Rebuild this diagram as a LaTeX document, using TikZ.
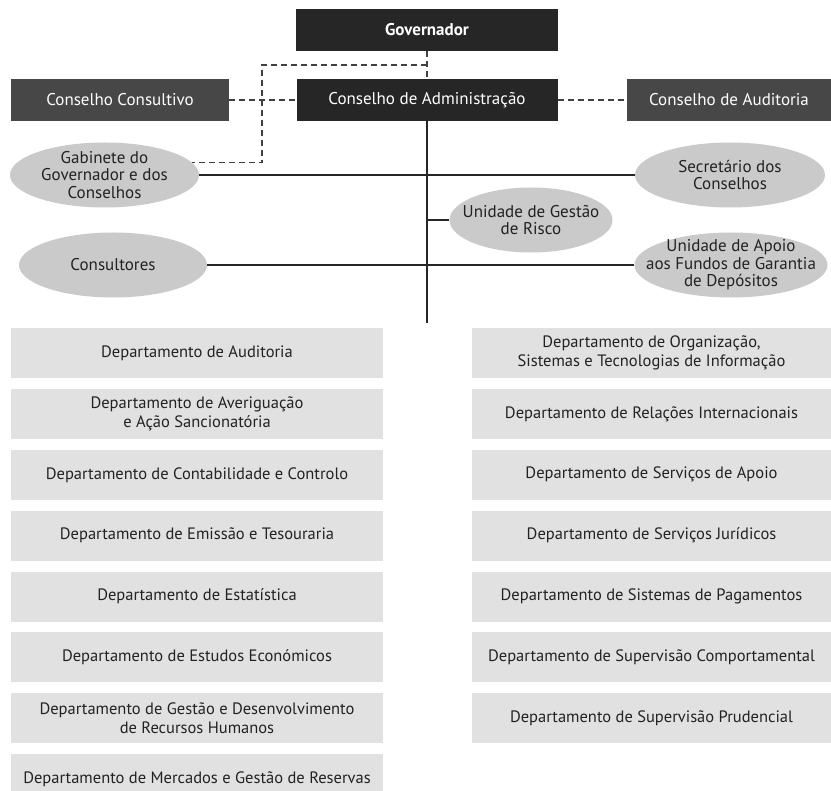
\documentclass[tikz,border=0pt]{standalone}
\usepackage{fontspec}
\setmainfont{PT Sans}
\usepackage{xcolor}
\usepackage{tikz}
\usetikzlibrary{positioning, shapes.geometric}

\definecolor{boardgray}{HTML}{262626}
\definecolor{councilgray}{HTML}{474747}
\definecolor{unitgray}{HTML}{CACACA}
\definecolor{deptgray}{HTML}{E1E1E1}
\definecolor{inkgray}{HTML}{222222}

\begin{document}
\begin{tikzpicture}[
        x=1pt, y=-1pt,
        font=\fontsize{16.5}{19}\selectfont,
        node distance=10.5pt,
        board/.style={rectangle, fill=boardgray, text=white, font=\fontsize{17}{19}\selectfont, minimum width=262pt, minimum height=42pt, inner sep=0pt},
        council/.style={rectangle, fill=councilgray, text=white, font=\fontsize{17}{19}\selectfont, minimum height=42pt, inner sep=0pt},
        unit/.style={ellipse, fill=unitgray, minimum height=65pt, inner sep=0pt},
        unittext/.style={align=center, text=inkgray, font=\fontsize{17}{17.5}\selectfont},
        dept/.style={rectangle, fill=deptgray, text=inkgray, align=center, minimum height=50pt, inner sep=2pt},
        leftdept/.style={dept, minimum width=372pt},
        rightdept/.style={dept, minimum width=359pt},
        link/.style={line width=1.5pt, black!85},
        dashlink/.style={line width=1.4pt, dash pattern=on 6pt off 4pt, black!75}
    ]
        \clip (0,0) rectangle (831,791);

        % top of the chart
        \node[board] (gov) at (427,30) {\bfseries Governador};
        \node[board, minimum width=261pt] (admin) at (427,100) {Conselho de Administração};
        \node[council, minimum width=218pt] (consultivo) at (120,100) {Conselho Consultivo};
        \node[council, minimum width=204pt] (auditoria) at (729,100) {Conselho de Auditoria};

        % units round the trunk
        \node[unit, minimum width=189pt, label={[unittext]center:Gabinete do\\Governador e dos\\Conselhos}] (gabinete) at (104.5,175) {};
        \node[unit, minimum width=190pt, label={[unittext]center:Secretário dos\\Conselhos}] (secretario) at (730,175) {};
        \node[unit, minimum width=163pt, label={[unittext]center:Unidade de Gestão\\de Risco}] (risco) at (531,220) {};
        \node[unit, minimum width=188pt, label={[unittext]center:Consultores}] (consultores) at (113,265) {};
        \node[unit, minimum width=193pt, label={[unittext]center:Unidade de Apoio\\aos Fundos de Garantia\\de Depósitos}] (apoiofundos) at (731,265) {};

        \coordinate (trunkend) at (427,323);
        \coordinate (bend) at (262,65);

        % departments, left column
        \node[leftdept] (dauditoria) at (197,353) {Departamento de Auditoria};
        \node[leftdept, below=of dauditoria] (daveriguacao) {Departamento de Averiguação\\e Ação Sancionatória};
        \node[leftdept, below=of daveriguacao] (dcontabilidade) {Departamento de Contabilidade e Controlo};
        \node[leftdept, below=of dcontabilidade] (demissao) {Departamento de Emissão e Tesouraria};
        \node[leftdept, below=of demissao] (destatistica) {Departamento de Estatística};
        \node[leftdept, below=of destatistica] (destudos) {Departamento de Estudos Económicos};
        \node[leftdept, below=of destudos] (drh) {Departamento de Gestão e Desenvolvimento\\de Recursos Humanos};
        \node[leftdept, below=of drh] (dmercados) {Departamento de Mercados e Gestão de Reservas};

        % departments, right column
        \node[rightdept] (dorganizacao) at (651.5,353) {Departamento de Organização,\\Sistemas e Tecnologias de Informação};
        \node[rightdept, below=of dorganizacao] (drelacoes) {Departamento de Relações Internacionais};
        \node[rightdept, below=of drelacoes] (dservicos) {Departamento de Serviços de Apoio};
        \node[rightdept, below=of dservicos] (djuridicos) {Departamento de Serviços Jurídicos};
        \node[rightdept, below=of djuridicos] (dpagamentos) {Departamento de Sistemas de Pagamentos};
        \node[rightdept, below=of dpagamentos] (dcomportamental) {Departamento de Supervisão Comportamental};
        \node[rightdept, below=of dcomportamental] (dprudencial) {Departamento de Supervisão Prudencial};

        % connectors
        \draw[link] (admin) -- (trunkend);
        \draw[link] (gabinete) -- (secretario);
        \draw[link] (consultores) -- (apoiofundos);
        \draw[link] (risco) -- (risco -| trunkend);

        \draw[dashlink] (gov) -- (admin);
        \draw[dashlink] (consultivo) -- (admin);
        \draw[dashlink] (admin) -- (auditoria);
        \draw[dashlink] (gov.south |- bend) -- (bend) |- (gabinete.8);
    \end{tikzpicture}
\end{document}
